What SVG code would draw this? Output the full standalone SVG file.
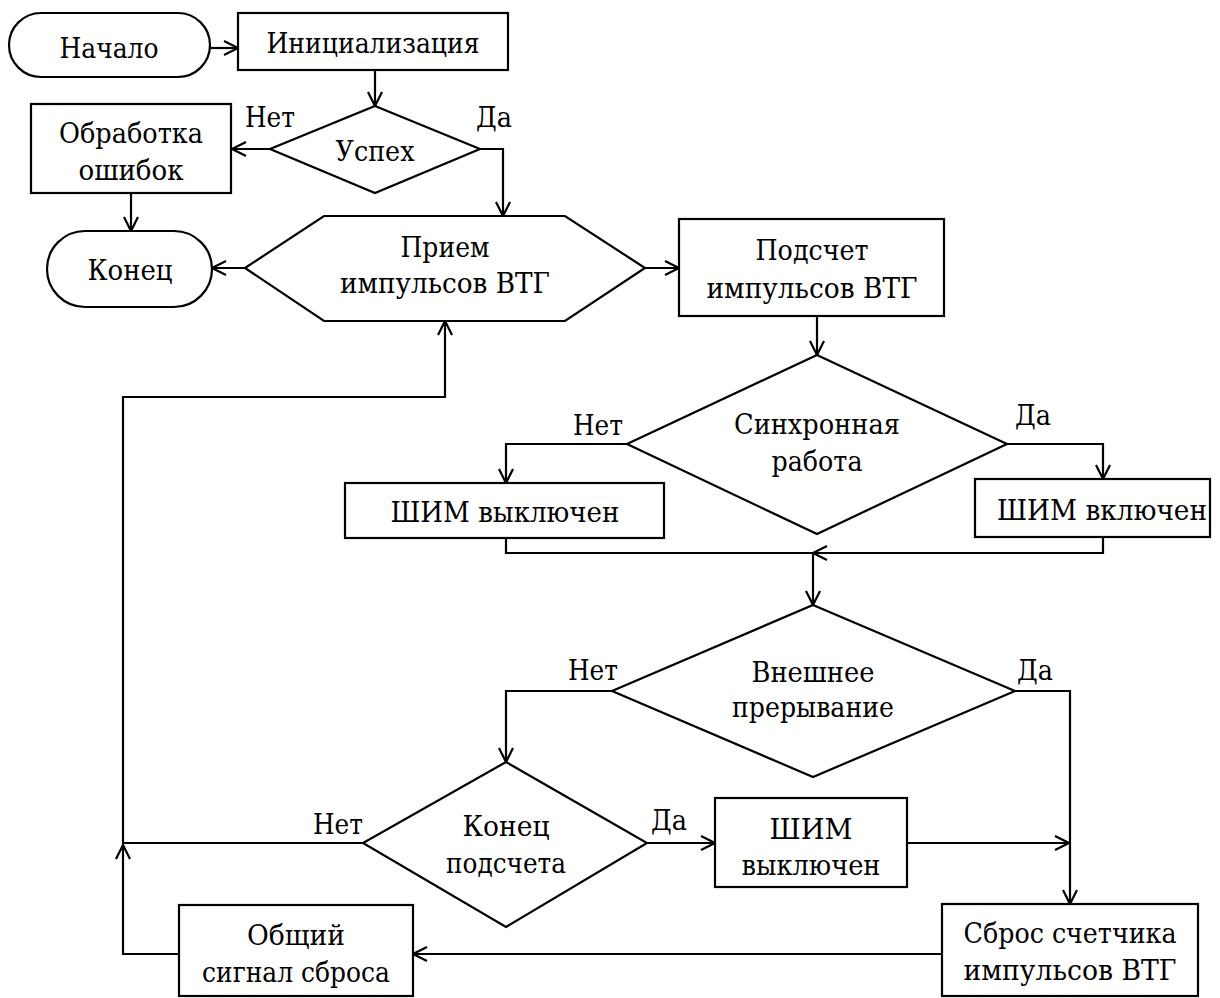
<svg xmlns="http://www.w3.org/2000/svg" width="1220" height="998" viewBox="0 0 1220 998" font-family="DejaVu Serif, serif">
<defs>
<marker id="arr" viewBox="0 0 16 16" refX="15" refY="8" markerWidth="16" markerHeight="16" markerUnits="userSpaceOnUse" orient="auto">
<path d="M1,1 L15,8 L1,15" fill="none" stroke="#000" stroke-width="2.2"/>
</marker>
<style>
.n{fill:#fff;stroke:#000;stroke-width:2.2}
.t{font-size:28px;fill:#000;text-anchor:middle}
.l{font-size:28px;fill:#000}
.c{fill:none;stroke:#000;stroke-width:2.2}
.a{marker-end:url(#arr)}
</style>
</defs>
<rect width="1220" height="998" fill="#fff"/>
<g id="connectors">
<path class="c a" d="M210,48 H238"/>
<path class="c a" d="M375,70 V106"/>
<path class="c a" d="M270,149 H232"/>
<path class="c a" d="M480,149 H503 V216"/>
<path class="c a" d="M131,193 V231"/>
<path class="c a" d="M245,268 H212"/>
<path class="c a" d="M645,268 H679"/>
<path class="c a" d="M817,316 V355"/>
<path class="c a" d="M627,444 H506 V483"/>
<path class="c a" d="M1007,444 H1103 V479"/>
<path class="c" d="M506,538 V553 H813"/>
<path class="c a" d="M1103,537 V553 H813"/>
<path class="c a" d="M813,553 V605"/>
<path class="c a" d="M612,691 H506 V762"/>
<path class="c a" d="M1015,691 H1070 V904"/>
<path class="c a" d="M647,843 H715"/>
<path class="c a" d="M907,843 H1069"/>
<path class="c a" d="M363,843 H123 V397 H445 V321"/>
<path class="c a" d="M942,954 H413"/>
<path class="c a" d="M179,954 H123 V845"/>
<text class="l" x="245" y="127" textLength="50" lengthAdjust="spacingAndGlyphs">Нет</text>
<text class="l" x="476" y="127" textLength="36" lengthAdjust="spacingAndGlyphs">Да</text>
<text class="l" x="573" y="435" textLength="50" lengthAdjust="spacingAndGlyphs">Нет</text>
<text class="l" x="1015" y="425" textLength="36" lengthAdjust="spacingAndGlyphs">Да</text>
<text class="l" x="568" y="680" textLength="50" lengthAdjust="spacingAndGlyphs">Нет</text>
<text class="l" x="1017" y="680" textLength="36" lengthAdjust="spacingAndGlyphs">Да</text>
<text class="l" x="313" y="834" textLength="50" lengthAdjust="spacingAndGlyphs">Нет</text>
<text class="l" x="651" y="830" textLength="36" lengthAdjust="spacingAndGlyphs">Да</text>
</g>
<g id="start">
<rect class="n" x="9" y="13" width="201" height="64" rx="32"/>
<text class="t" x="109" y="58" textLength="99" lengthAdjust="spacingAndGlyphs">Начало</text>
</g>
<g id="init">
<rect class="n" x="238" y="13" width="270" height="57"/>
<text class="t" x="373" y="53" textLength="213" lengthAdjust="spacingAndGlyphs">Инициализация</text>
</g>
<g id="success">
<polygon class="n" points="375,106 480,149 375,193 270,149"/>
<text class="t" x="375" y="161" textLength="79" lengthAdjust="spacingAndGlyphs">Успех</text>
</g>
<g id="errors">
<rect class="n" x="31" y="104" width="200" height="89"/>
<text class="t" x="131" y="143" textLength="144" lengthAdjust="spacingAndGlyphs">Обработка</text>
<text class="t" x="131" y="180" textLength="105" lengthAdjust="spacingAndGlyphs">ошибок</text>
</g>
<g id="end">
<rect class="n" x="47" y="231" width="165" height="76" rx="38"/>
<text class="t" x="130" y="280" textLength="85" lengthAdjust="spacingAndGlyphs">Конец</text>
</g>
<g id="receive">
<polygon class="n" points="245,268 324,216 565,216 645,268 565,321 324,321"/>
<text class="t" x="445" y="257" textLength="89" lengthAdjust="spacingAndGlyphs">Прием</text>
<text class="t" x="445" y="293" textLength="210" lengthAdjust="spacingAndGlyphs">импульсов ВТГ</text>
</g>
<g id="count">
<rect class="n" x="679" y="219" width="265" height="97"/>
<text class="t" x="812" y="260" textLength="113" lengthAdjust="spacingAndGlyphs">Подсчет</text>
<text class="t" x="812" y="298" textLength="211" lengthAdjust="spacingAndGlyphs">импульсов ВТГ</text>
</g>
<g id="sync">
<polygon class="n" points="817,355 1007,444 817,534 627,444"/>
<text class="t" x="817" y="434" textLength="166" lengthAdjust="spacingAndGlyphs">Синхронная</text>
<text class="t" x="817" y="471" textLength="91" lengthAdjust="spacingAndGlyphs">работа</text>
</g>
<g id="pwm-off">
<rect class="n" x="345" y="483" width="319" height="55"/>
<text class="t" x="505" y="522" textLength="229" lengthAdjust="spacingAndGlyphs">ШИМ выключен</text>
</g>
<g id="pwm-on">
<rect class="n" x="975" y="479" width="235" height="58"/>
<text class="t" x="1102" y="520" textLength="210" lengthAdjust="spacingAndGlyphs">ШИМ включен</text>
</g>
<g id="ext-int">
<polygon class="n" points="813,605 1015,691 813,777 612,691"/>
<text class="t" x="813" y="682" textLength="123" lengthAdjust="spacingAndGlyphs">Внешнее</text>
<text class="t" x="813" y="717" textLength="162" lengthAdjust="spacingAndGlyphs">прерывание</text>
</g>
<g id="count-end">
<polygon class="n" points="506,762 647,843 506,927 363,843"/>
<text class="t" x="506" y="836" textLength="87" lengthAdjust="spacingAndGlyphs">Конец</text>
<text class="t" x="506" y="873" textLength="120" lengthAdjust="spacingAndGlyphs">подсчета</text>
</g>
<g id="pwm-off2">
<rect class="n" x="715" y="798" width="192" height="89"/>
<text class="t" x="811" y="839" textLength="83" lengthAdjust="spacingAndGlyphs">ШИМ</text>
<text class="t" x="811" y="875" textLength="139" lengthAdjust="spacingAndGlyphs">выключен</text>
</g>
<g id="reset-counter">
<rect class="n" x="942" y="904" width="256" height="92"/>
<text class="t" x="1070" y="943" textLength="213" lengthAdjust="spacingAndGlyphs">Сброс счетчика</text>
<text class="t" x="1070" y="980" textLength="213" lengthAdjust="spacingAndGlyphs">импульсов ВТГ</text>
</g>
<g id="common-reset">
<rect class="n" x="179" y="905" width="234" height="91"/>
<text class="t" x="296" y="945" textLength="98" lengthAdjust="spacingAndGlyphs">Общий</text>
<text class="t" x="296" y="982" textLength="188" lengthAdjust="spacingAndGlyphs">сигнал сброса</text>
</g>
</svg>
